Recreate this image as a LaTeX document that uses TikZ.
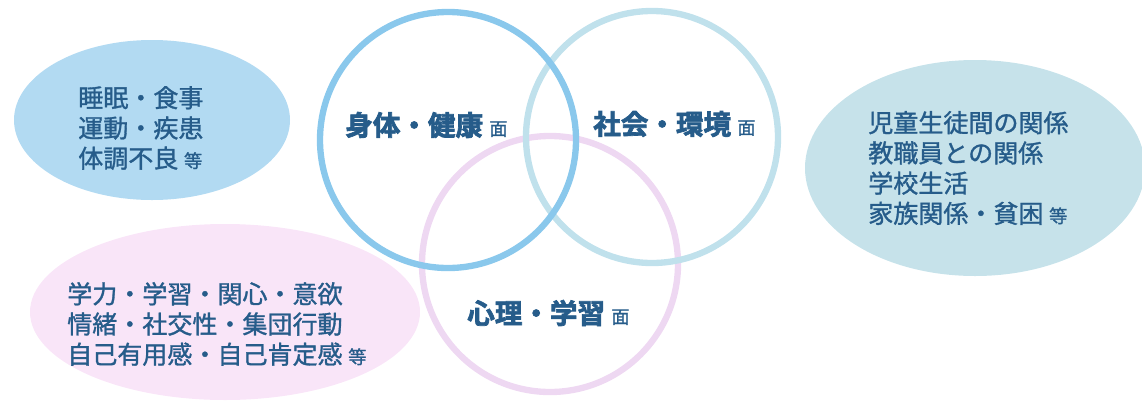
\documentclass[tikz,border=0pt]{standalone}
\usepackage{fontspec}
\usepackage{tikz}
\newfontfamily\jpfont[FakeBold=1.2]{Noto Sans CJK JP}
\newfontfamily\jpheavy[FakeBold=2.5]{Noto Sans CJK JP Bold}
\definecolor{textBlue}{RGB}{38,92,138}
\definecolor{ringBody}{RGB}{138,200,236}
\definecolor{ringSocial}{RGB}{192,225,236}
\definecolor{ringMind}{RGB}{238,216,242}
\definecolor{blobBody}{RGB}{178,218,242}
\definecolor{blobSocial}{RGB}{198,226,234}
\definecolor{blobMind}{RGB}{249,229,248}
\tikzstyle{item} = [anchor=west, align=left, inner sep=0, text=textBlue, font=\jpfont\fontsize{17.8}{21.5}\selectfont]
\tikzstyle{facet} = [anchor=west, inner sep=0, text=textBlue, font=\jpheavy\fontsize{19.6}{22}\selectfont]
\tikzstyle{ring} = [line width=4.5pt]
\newcommand{\etcmark}{{\jpfont\fontsize{13}{15}\selectfont 等}}
\newcommand{\menmark}{{\jpfont\fontsize{13}{15}\selectfont 面}}

\begin{document}
\begin{tikzpicture}[x=0.025cm, y=-0.025cm]
    \useasboundingbox (0,0) rectangle (1142,409);
    % soft blobs behind
    \fill [blobBody] (152,120) ellipse (138 and 80);
    \fill [blobMind] (225,312) ellipse (195 and 88);
    \fill [blobSocial] (975,168) ellipse (170 and 108);

    % the three rings
    \draw [ring, ringMind] (550,264) circle (128);
    \draw [ring, ringSocial] (652,137) circle (126);
    \draw [ring, ringBody] (448,140) circle (128);

    \node [facet] (bodyFacet) at (345,125) {身体・健康 \menmark};
    \node [facet] (socialFacet) at (593,124) {社会・環境 \menmark};
    \node [facet] (mindFacet) at (467,313) {心理・学習 \menmark};

    \node [item] (bodyItems) at (78,128) {睡眠・食事\\運動・疾患\\体調不良 \etcmark};
    \node [item] (socialItems) at (868,168) {児童生徒間の関係\\教職員との関係\\学校生活\\家族関係・貧困 \etcmark};
    \node [item] (mindItems) at (67,324) {学力・学習・関心・意欲\\情緒・社交性・集団行動\\自己有用感・自己肯定感 \etcmark};
\end{tikzpicture}
\end{document}
